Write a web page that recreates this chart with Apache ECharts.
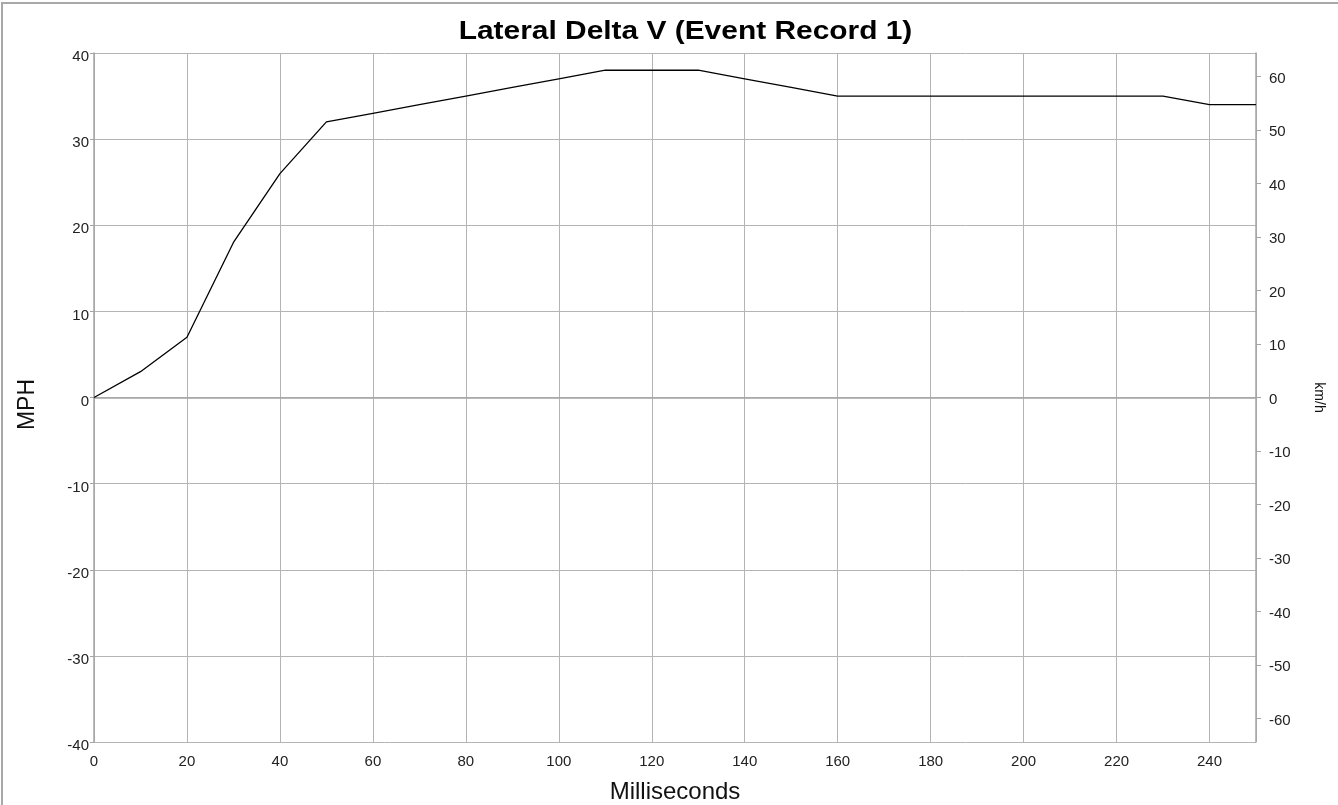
<!DOCTYPE html>
<html>
<head>
<meta charset="utf-8">
<script src="https://cdn.jsdelivr.net/npm/echarts@6/dist/echarts.min.js"></script>
<style>
  html, body { margin: 0; padding: 0; background: #fff; }
  #chart { position: absolute; left: 0; top: 0; width: 1338px; height: 805px; }
  #frame { position: absolute; left: 1px; top: 2px; width: 1400px; height: 900px;
           border-left: 2px solid #a8a8a8; border-top: 2px solid #a8a8a8; pointer-events: none; }
</style>
</head>
<body>
<div id="chart"></div>
<div id="frame"></div>
<script>
const titleText = 'Lateral Delta V (Event Record 1)';
const xName = 'Milliseconds';
const yLeftName = 'MPH';
const yRightName = 'km/h';
const timeMs = [0,10,20,30,40,50,60,70,80,90,100,110,120,130,140,150,160,170,180,190,200,210,220,230,240,250];
const mph    = [0,3,7,18,26,32,33,34,35,36,37,38,38,38,37,36,35,35,35,35,35,35,35,35,34,34];
const kmhTicks = [-60,-50,-40,-30,-20,-10,0,10,20,30,40,50,60];
const MPH_TO_KMH = 1.609344;

const chart = echarts.init(document.getElementById('chart'), null, { renderer: 'canvas' });
const font = 'Liberation Sans, Arial, sans-serif';
const gridColor = '#b4b4b4';
const axisColor = '#a4a4a4';

chart.setOption({
  animation: false,
  backgroundColor: '#fff',
  textStyle: { fontFamily: font },
  graphic: [{
    type: 'text',
    x: 685.5, y: 19,
    scaleX: 1.15,
    style: {
      text: titleText,
      textAlign: 'center', textVerticalAlign: 'top',
      font: 'bold 26px "Liberation Sans", Arial, sans-serif',
      fill: '#000'
    }
  }],
  grid: { left: 94, right: 82, top: 53, bottom: 63, containLabel: false, outerBoundsMode: 'none' },
  xAxis: {
    type: 'value', min: 0, max: 250, interval: 20,
    name: xName, nameLocation: 'middle', nameGap: 38,
    nameTextStyle: { fontFamily: font, fontSize: 24, color: '#111' },
    axisLine: { show: true, lineStyle: { color: axisColor, width: 1.5 } },
    axisTick: { show: false },
    axisLabel: { margin: 12, fontSize: 15, color: '#222', fontFamily: font, showMaxLabel: false },
    splitLine: { show: true, lineStyle: { color: gridColor, width: 1 } }
  },
  yAxis: [
    {
      type: 'value', min: -40, max: 40, interval: 10, position: 'left',
      name: yLeftName, nameLocation: 'middle', nameGap: 55,
      nameTextStyle: { fontFamily: font, fontSize: 23, color: '#111', padding: [0, 14, 0, 0] },
      axisLine: { show: true, lineStyle: { color: axisColor, width: 1.5 } },
      axisTick: { show: true, inside: false, length: 4, lineStyle: { color: axisColor } },
      axisLabel: { margin: 5, fontSize: 15, color: '#222', fontFamily: font, verticalAlign: 'top', lineHeight: 8 },
      splitLine: { show: true, lineStyle: { color: gridColor, width: 1 } }
    },
    {
      type: 'value', min: -40 * MPH_TO_KMH, max: 40 * MPH_TO_KMH, position: 'right',
      name: yRightName, nameLocation: 'middle', nameGap: 56, nameRotate: -90,
      nameTextStyle: { fontFamily: font, fontSize: 14, color: '#111' },
      axisLine: { show: true, lineStyle: { color: axisColor, width: 1.5 } },
      axisTick: { show: true, inside: false, length: 5, customValues: kmhTicks, lineStyle: { color: axisColor } },
      axisLabel: { margin: 13, fontSize: 15, color: '#222', fontFamily: font, customValues: kmhTicks, verticalAlign: 'top', lineHeight: 4 },
      splitLine: { show: false }
    }
  ],
  series: [{
    type: 'line',
    yAxisIndex: 0,
    data: timeMs.map((t, i) => [t, mph[i]]),
    showSymbol: false,
    symbol: 'none',
    lineStyle: { color: '#000', width: 1.3 },
    z: 5
  }]
});
</script>
</body>
</html>
